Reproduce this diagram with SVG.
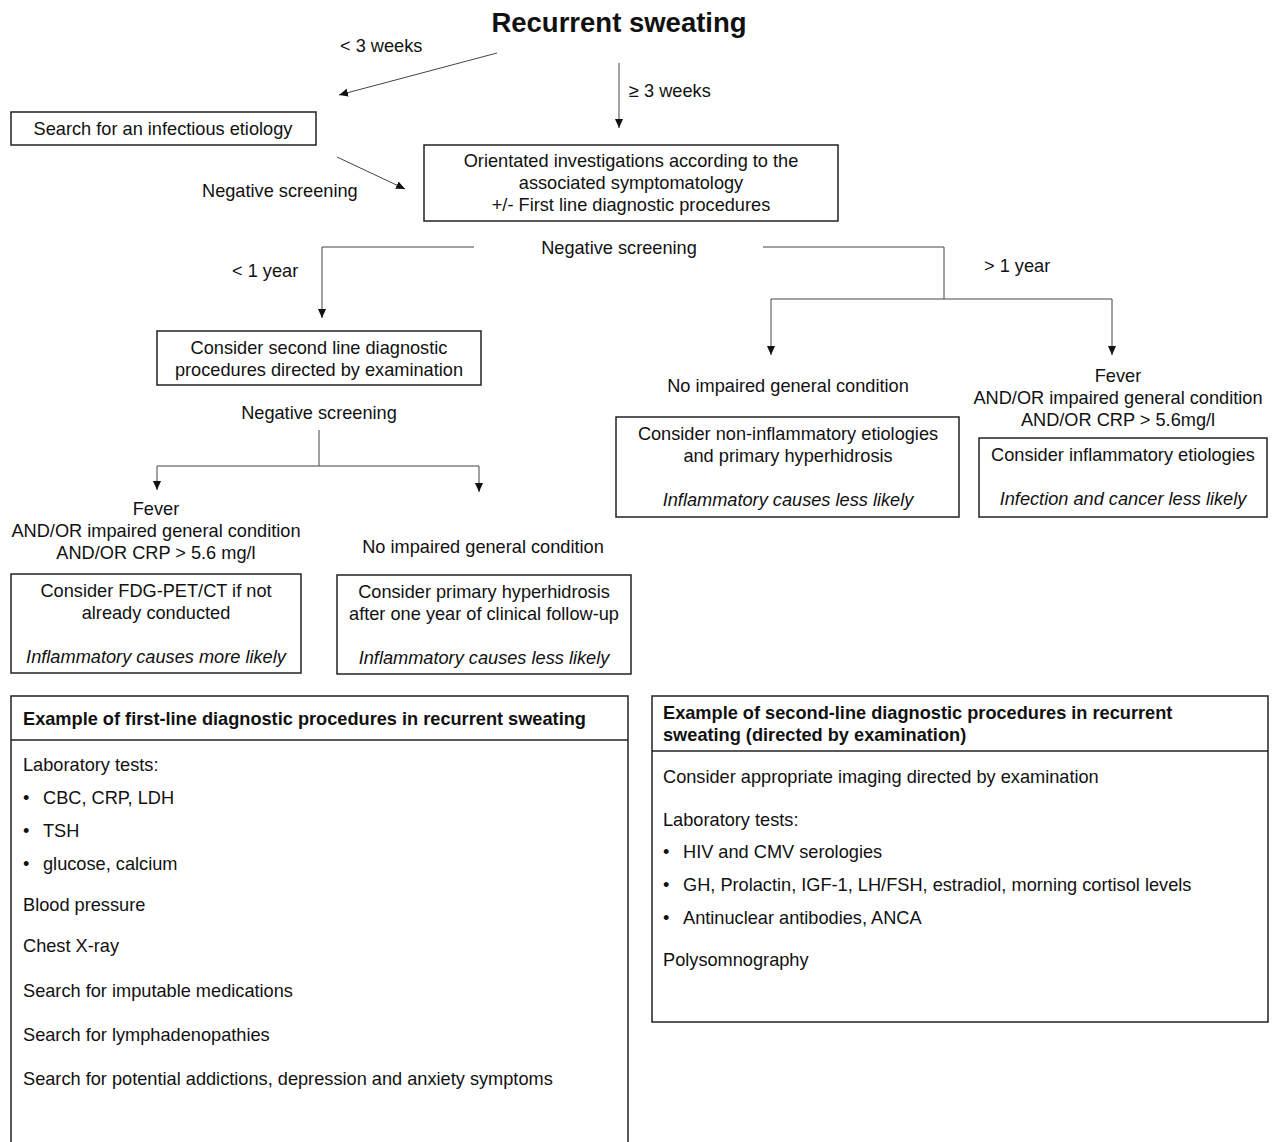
<svg xmlns="http://www.w3.org/2000/svg" width="1272" height="1142" viewBox="0 0 1272 1142">
<defs>
<marker id="ah" markerWidth="10" markerHeight="10" refX="9" refY="5" orient="auto" markerUnits="userSpaceOnUse">
<path d="M0,1 L9,5 L0,9 Z" fill="#111"/>
</marker>
<style>
text{font-family:"Liberation Sans",Arial,sans-serif;font-size:18.2px;fill:#111}
.c{text-anchor:middle}
.i{font-style:italic}
.b{font-weight:bold}
.box{fill:#fff;stroke:#222;stroke-width:1.5}
.ln{fill:none;stroke:#444;stroke-width:1}
.ar{fill:none;stroke:#444;stroke-width:1;marker-end:url(#ah)}
</style>
</defs>
<rect width="1272" height="1142" fill="#fff"/>
<text x="619" y="32" class="c b" style="font-size:27.5px">Recurrent sweating</text>

<g id="connectors">
<line class="ar" x1="497" y1="53" x2="339" y2="95"/>
<line class="ar" x1="619" y1="63" x2="619" y2="128"/>
<line class="ar" x1="337" y1="157" x2="405" y2="189"/>
<polyline class="ar" points="474,247 322,247 322,318"/>
<polyline class="ln" points="763,247 944,247 944,299"/>
<polyline class="ar" points="944,299 771,299 771,355"/>
<polyline class="ar" points="944,299 1112,299 1112,355"/>
<line class="ln" x1="319" y1="430" x2="319" y2="466"/>
<polyline class="ar" points="319,466 157,466 157,490"/>
<polyline class="ar" points="319,466 479,466 479,492"/>
</g>
<g id="labels">
<text x="340" y="52">&lt; 3 weeks</text>
<text x="629" y="97">≥ 3 weeks</text>
<text x="202" y="197">Negative screening</text>
<text x="619" y="254" class="c">Negative screening</text>
<text x="232" y="277">&lt; 1 year</text>
<text x="984" y="272">&gt; 1 year</text>
<text x="319" y="419" class="c">Negative screening</text>
<text x="156" y="515" class="c">Fever</text>
<text x="156" y="537" class="c">AND/OR impaired general condition</text>
<text x="156" y="559" class="c">AND/OR CRP &gt; 5.6 mg/l</text>
<text x="483" y="553" class="c">No impaired general condition</text>
<text x="788" y="392" class="c">No impaired general condition</text>
<text x="1118" y="382" class="c">Fever</text>
<text x="1118" y="404" class="c">AND/OR impaired general condition</text>
<text x="1118" y="426" class="c">AND/OR CRP &gt; 5.6mg/l</text>
</g>

<g id="n-infectious">
<rect class="box" x="11" y="112" width="305" height="33"/>
<text x="163" y="135" class="c">Search for an infectious etiology</text>
</g>
<g id="n-orientated">
<rect class="box" x="424" y="145" width="414" height="76"/>
<text x="631" y="167" class="c">Orientated investigations according to the</text>
<text x="631" y="189" class="c">associated symptomatology</text>
<text x="631" y="211" class="c">+/- First line diagnostic procedures</text>
</g>
<g id="n-second">
<rect class="box" x="157" y="331" width="324" height="54"/>
<text x="319" y="354" class="c">Consider second line diagnostic</text>
<text x="319" y="376" class="c">procedures directed by examination</text>
</g>
<g id="n-fdg">
<rect class="box" x="11" y="574" width="290" height="99"/>
<text x="156" y="597" class="c">Consider FDG-PET/CT if not</text>
<text x="156" y="619" class="c">already conducted</text>
<text x="156" y="663" class="c i">Inflammatory causes more likely</text>
</g>
<g id="n-primary">
<rect class="box" x="337" y="575" width="294" height="99"/>
<text x="484" y="598" class="c">Consider primary hyperhidrosis</text>
<text x="484" y="620" class="c">after one year of clinical follow-up</text>
<text x="484" y="664" class="c i">Inflammatory causes less likely</text>
</g>
<g id="n-noninflam">
<rect class="box" x="616" y="417" width="343" height="100"/>
<text x="788" y="440" class="c">Consider non-inflammatory etiologies</text>
<text x="788" y="462" class="c">and primary hyperhidrosis</text>
<text x="788" y="506" class="c i">Inflammatory causes less likely</text>
</g>
<g id="n-inflam">
<rect class="box" x="979" y="438" width="288" height="79"/>
<text x="1123" y="461" class="c">Consider inflammatory etiologies</text>
<text x="1123" y="505" class="c i">Infection and cancer less likely</text>
</g>

<g id="n-firstline">
<rect class="box" x="11" y="696" width="617" height="460"/>
<line x1="11" y1="740" x2="628" y2="740" stroke="#222" stroke-width="1.5"/>
<text x="23" y="725" class="b">Example of first-line diagnostic procedures in recurrent sweating</text>
<text x="23" y="771">Laboratory tests:</text>
<text x="23" y="804">•</text><text x="43" y="804">CBC, CRP, LDH</text>
<text x="23" y="837">•</text><text x="43" y="837">TSH</text>
<text x="23" y="870">•</text><text x="43" y="870">glucose, calcium</text>
<text x="23" y="911">Blood pressure</text>
<text x="23" y="952">Chest X-ray</text>
<text x="23" y="997">Search for imputable medications</text>
<text x="23" y="1041">Search for lymphadenopathies</text>
<text x="23" y="1085">Search for potential addictions, depression and anxiety symptoms</text>
</g>
<g id="n-secondline">
<rect class="box" x="652" y="696" width="616" height="326"/>
<line x1="652" y1="751" x2="1268" y2="751" stroke="#222" stroke-width="1.5"/>
<text x="663" y="719" class="b">Example of second-line diagnostic procedures in recurrent</text>
<text x="663" y="741" class="b">sweating (directed by examination)</text>
<text x="663" y="783">Consider appropriate imaging directed by examination</text>
<text x="663" y="826">Laboratory tests:</text>
<text x="663" y="858">•</text><text x="683" y="858">HIV and CMV serologies</text>
<text x="663" y="891">•</text><text x="683" y="891">GH, Prolactin, IGF-1, LH/FSH, estradiol, morning cortisol levels</text>
<text x="663" y="924">•</text><text x="683" y="924">Antinuclear antibodies, ANCA</text>
<text x="663" y="966">Polysomnography</text>
</g>
</svg>
